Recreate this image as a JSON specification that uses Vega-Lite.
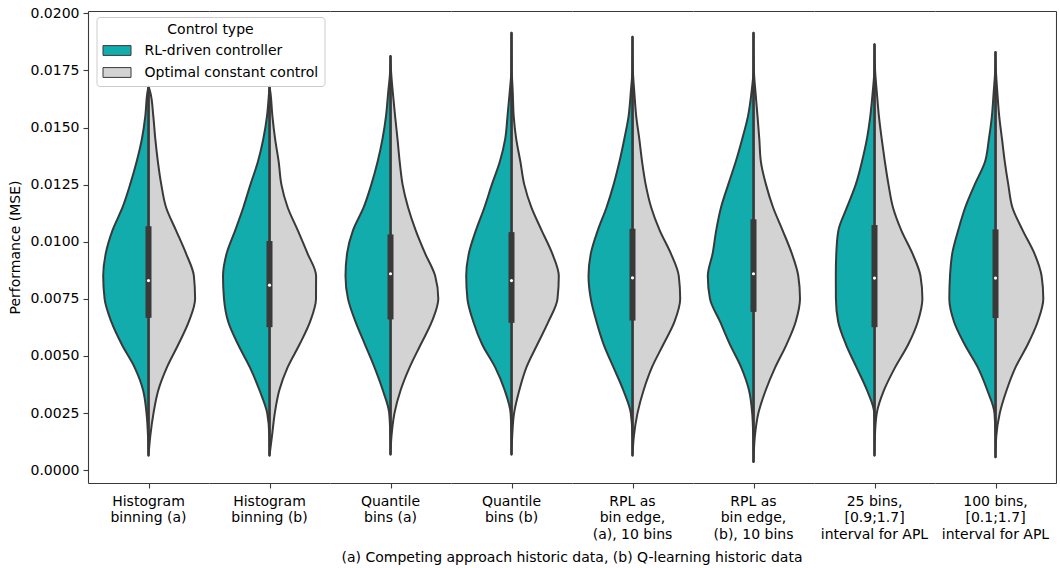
{
  "$schema": "https://vega.github.io/schema/vega-lite/v6.json",
  "background": "white",
  "padding": {"left": 8, "top": 6, "right": 1, "bottom": 0},
  "spacing": 0,
  "data": {
    "values": [
      {"method": "Histogram\nbinning (a)", "control": "RL-driven controller", "mse": 0.00064, "density": 0},
      {"method": "Histogram\nbinning (a)", "control": "RL-driven controller", "mse": 0.0015, "density": 0.01},
      {"method": "Histogram\nbinning (a)", "control": "RL-driven controller", "mse": 0.0025, "density": 0.04},
      {"method": "Histogram\nbinning (a)", "control": "RL-driven controller", "mse": 0.0035, "density": 0.108},
      {"method": "Histogram\nbinning (a)", "control": "RL-driven controller", "mse": 0.0045, "density": 0.278},
      {"method": "Histogram\nbinning (a)", "control": "RL-driven controller", "mse": 0.0055, "density": 0.534},
      {"method": "Histogram\nbinning (a)", "control": "RL-driven controller", "mse": 0.0065, "density": 0.744},
      {"method": "Histogram\nbinning (a)", "control": "RL-driven controller", "mse": 0.0075, "density": 0.878},
      {"method": "Histogram\nbinning (a)", "control": "RL-driven controller", "mse": 0.0085, "density": 0.906},
      {"method": "Histogram\nbinning (a)", "control": "RL-driven controller", "mse": 0.0095, "density": 0.854},
      {"method": "Histogram\nbinning (a)", "control": "RL-driven controller", "mse": 0.0105, "density": 0.72},
      {"method": "Histogram\nbinning (a)", "control": "RL-driven controller", "mse": 0.0115, "density": 0.52},
      {"method": "Histogram\nbinning (a)", "control": "RL-driven controller", "mse": 0.0125, "density": 0.368},
      {"method": "Histogram\nbinning (a)", "control": "RL-driven controller", "mse": 0.0135, "density": 0.238},
      {"method": "Histogram\nbinning (a)", "control": "RL-driven controller", "mse": 0.0145, "density": 0.132},
      {"method": "Histogram\nbinning (a)", "control": "RL-driven controller", "mse": 0.0155, "density": 0.064},
      {"method": "Histogram\nbinning (a)", "control": "RL-driven controller", "mse": 0.0165, "density": 0.024},
      {"method": "Histogram\nbinning (a)", "control": "RL-driven controller", "mse": 0.0168, "density": 0},
      {"method": "Histogram\nbinning (a)", "control": "Optimal constant control", "mse": 0.00064, "density": 0},
      {"method": "Histogram\nbinning (a)", "control": "Optimal constant control", "mse": 0.0015, "density": 0.036},
      {"method": "Histogram\nbinning (a)", "control": "Optimal constant control", "mse": 0.0025, "density": 0.1},
      {"method": "Histogram\nbinning (a)", "control": "Optimal constant control", "mse": 0.0035, "density": 0.196},
      {"method": "Histogram\nbinning (a)", "control": "Optimal constant control", "mse": 0.0045, "density": 0.368},
      {"method": "Histogram\nbinning (a)", "control": "Optimal constant control", "mse": 0.0055, "density": 0.596},
      {"method": "Histogram\nbinning (a)", "control": "Optimal constant control", "mse": 0.0065, "density": 0.806},
      {"method": "Histogram\nbinning (a)", "control": "Optimal constant control", "mse": 0.0075, "density": 0.932},
      {"method": "Histogram\nbinning (a)", "control": "Optimal constant control", "mse": 0.0085, "density": 0.908},
      {"method": "Histogram\nbinning (a)", "control": "Optimal constant control", "mse": 0.0095, "density": 0.748},
      {"method": "Histogram\nbinning (a)", "control": "Optimal constant control", "mse": 0.0105, "density": 0.55},
      {"method": "Histogram\nbinning (a)", "control": "Optimal constant control", "mse": 0.0115, "density": 0.352},
      {"method": "Histogram\nbinning (a)", "control": "Optimal constant control", "mse": 0.0125, "density": 0.256},
      {"method": "Histogram\nbinning (a)", "control": "Optimal constant control", "mse": 0.0135, "density": 0.188},
      {"method": "Histogram\nbinning (a)", "control": "Optimal constant control", "mse": 0.0145, "density": 0.136},
      {"method": "Histogram\nbinning (a)", "control": "Optimal constant control", "mse": 0.0155, "density": 0.096},
      {"method": "Histogram\nbinning (a)", "control": "Optimal constant control", "mse": 0.0165, "density": 0.04},
      {"method": "Histogram\nbinning (a)", "control": "Optimal constant control", "mse": 0.0168, "density": 0},

      {"method": "Histogram\nbinning (b)", "control": "RL-driven controller", "mse": 0.00064, "density": 0},
      {"method": "Histogram\nbinning (b)", "control": "RL-driven controller", "mse": 0.0015, "density": 0.004},
      {"method": "Histogram\nbinning (b)", "control": "RL-driven controller", "mse": 0.0025, "density": 0.046},
      {"method": "Histogram\nbinning (b)", "control": "RL-driven controller", "mse": 0.0035, "density": 0.2},
      {"method": "Histogram\nbinning (b)", "control": "RL-driven controller", "mse": 0.0045, "density": 0.392},
      {"method": "Histogram\nbinning (b)", "control": "RL-driven controller", "mse": 0.0055, "density": 0.628},
      {"method": "Histogram\nbinning (b)", "control": "RL-driven controller", "mse": 0.0065, "density": 0.826},
      {"method": "Histogram\nbinning (b)", "control": "RL-driven controller", "mse": 0.0075, "density": 0.91},
      {"method": "Histogram\nbinning (b)", "control": "RL-driven controller", "mse": 0.0085, "density": 0.93},
      {"method": "Histogram\nbinning (b)", "control": "RL-driven controller", "mse": 0.0095, "density": 0.856},
      {"method": "Histogram\nbinning (b)", "control": "RL-driven controller", "mse": 0.0105, "density": 0.686},
      {"method": "Histogram\nbinning (b)", "control": "RL-driven controller", "mse": 0.0115, "density": 0.524},
      {"method": "Histogram\nbinning (b)", "control": "RL-driven controller", "mse": 0.0125, "density": 0.382},
      {"method": "Histogram\nbinning (b)", "control": "RL-driven controller", "mse": 0.0135, "density": 0.232},
      {"method": "Histogram\nbinning (b)", "control": "RL-driven controller", "mse": 0.0145, "density": 0.124},
      {"method": "Histogram\nbinning (b)", "control": "RL-driven controller", "mse": 0.0155, "density": 0.05},
      {"method": "Histogram\nbinning (b)", "control": "RL-driven controller", "mse": 0.0165, "density": 0.01},
      {"method": "Histogram\nbinning (b)", "control": "RL-driven controller", "mse": 0.0168, "density": 0},
      {"method": "Histogram\nbinning (b)", "control": "Optimal constant control", "mse": 0.00064, "density": 0},
      {"method": "Histogram\nbinning (b)", "control": "Optimal constant control", "mse": 0.0015, "density": 0.05},
      {"method": "Histogram\nbinning (b)", "control": "Optimal constant control", "mse": 0.0025, "density": 0.106},
      {"method": "Histogram\nbinning (b)", "control": "Optimal constant control", "mse": 0.0035, "density": 0.196},
      {"method": "Histogram\nbinning (b)", "control": "Optimal constant control", "mse": 0.0045, "density": 0.362},
      {"method": "Histogram\nbinning (b)", "control": "Optimal constant control", "mse": 0.0055, "density": 0.6},
      {"method": "Histogram\nbinning (b)", "control": "Optimal constant control", "mse": 0.0065, "density": 0.812},
      {"method": "Histogram\nbinning (b)", "control": "Optimal constant control", "mse": 0.0075, "density": 0.93},
      {"method": "Histogram\nbinning (b)", "control": "Optimal constant control", "mse": 0.0085, "density": 0.932},
      {"method": "Histogram\nbinning (b)", "control": "Optimal constant control", "mse": 0.0095, "density": 0.758},
      {"method": "Histogram\nbinning (b)", "control": "Optimal constant control", "mse": 0.0105, "density": 0.566},
      {"method": "Histogram\nbinning (b)", "control": "Optimal constant control", "mse": 0.0115, "density": 0.364},
      {"method": "Histogram\nbinning (b)", "control": "Optimal constant control", "mse": 0.0125, "density": 0.238},
      {"method": "Histogram\nbinning (b)", "control": "Optimal constant control", "mse": 0.0135, "density": 0.184},
      {"method": "Histogram\nbinning (b)", "control": "Optimal constant control", "mse": 0.0145, "density": 0.112},
      {"method": "Histogram\nbinning (b)", "control": "Optimal constant control", "mse": 0.0155, "density": 0.058},
      {"method": "Histogram\nbinning (b)", "control": "Optimal constant control", "mse": 0.0165, "density": 0.02},
      {"method": "Histogram\nbinning (b)", "control": "Optimal constant control", "mse": 0.0168, "density": 0},

      {"method": "Quantile\nbins (a)", "control": "RL-driven controller", "mse": 0.00069, "density": 0},
      {"method": "Quantile\nbins (a)", "control": "RL-driven controller", "mse": 0.0015, "density": 0.004},
      {"method": "Quantile\nbins (a)", "control": "RL-driven controller", "mse": 0.0025, "density": 0.026},
      {"method": "Quantile\nbins (a)", "control": "RL-driven controller", "mse": 0.0035, "density": 0.154},
      {"method": "Quantile\nbins (a)", "control": "RL-driven controller", "mse": 0.0045, "density": 0.32},
      {"method": "Quantile\nbins (a)", "control": "RL-driven controller", "mse": 0.0055, "density": 0.51},
      {"method": "Quantile\nbins (a)", "control": "RL-driven controller", "mse": 0.0065, "density": 0.7},
      {"method": "Quantile\nbins (a)", "control": "RL-driven controller", "mse": 0.0075, "density": 0.85},
      {"method": "Quantile\nbins (a)", "control": "RL-driven controller", "mse": 0.0085, "density": 0.9},
      {"method": "Quantile\nbins (a)", "control": "RL-driven controller", "mse": 0.0095, "density": 0.868},
      {"method": "Quantile\nbins (a)", "control": "RL-driven controller", "mse": 0.0105, "density": 0.75},
      {"method": "Quantile\nbins (a)", "control": "RL-driven controller", "mse": 0.0115, "density": 0.538},
      {"method": "Quantile\nbins (a)", "control": "RL-driven controller", "mse": 0.0125, "density": 0.384},
      {"method": "Quantile\nbins (a)", "control": "RL-driven controller", "mse": 0.0135, "density": 0.258},
      {"method": "Quantile\nbins (a)", "control": "RL-driven controller", "mse": 0.0145, "density": 0.16},
      {"method": "Quantile\nbins (a)", "control": "RL-driven controller", "mse": 0.0155, "density": 0.09},
      {"method": "Quantile\nbins (a)", "control": "RL-driven controller", "mse": 0.0165, "density": 0.048},
      {"method": "Quantile\nbins (a)", "control": "RL-driven controller", "mse": 0.0175, "density": 0.006},
      {"method": "Quantile\nbins (a)", "control": "RL-driven controller", "mse": 0.01813, "density": 0},
      {"method": "Quantile\nbins (a)", "control": "Optimal constant control", "mse": 0.00069, "density": 0},
      {"method": "Quantile\nbins (a)", "control": "Optimal constant control", "mse": 0.0015, "density": 0.02},
      {"method": "Quantile\nbins (a)", "control": "Optimal constant control", "mse": 0.0025, "density": 0.08},
      {"method": "Quantile\nbins (a)", "control": "Optimal constant control", "mse": 0.0035, "density": 0.202},
      {"method": "Quantile\nbins (a)", "control": "Optimal constant control", "mse": 0.0045, "density": 0.382},
      {"method": "Quantile\nbins (a)", "control": "Optimal constant control", "mse": 0.0055, "density": 0.604},
      {"method": "Quantile\nbins (a)", "control": "Optimal constant control", "mse": 0.0065, "density": 0.826},
      {"method": "Quantile\nbins (a)", "control": "Optimal constant control", "mse": 0.0075, "density": 0.956},
      {"method": "Quantile\nbins (a)", "control": "Optimal constant control", "mse": 0.0085, "density": 0.894},
      {"method": "Quantile\nbins (a)", "control": "Optimal constant control", "mse": 0.0095, "density": 0.69},
      {"method": "Quantile\nbins (a)", "control": "Optimal constant control", "mse": 0.0105, "density": 0.504},
      {"method": "Quantile\nbins (a)", "control": "Optimal constant control", "mse": 0.0115, "density": 0.352},
      {"method": "Quantile\nbins (a)", "control": "Optimal constant control", "mse": 0.0125, "density": 0.242},
      {"method": "Quantile\nbins (a)", "control": "Optimal constant control", "mse": 0.0135, "density": 0.184},
      {"method": "Quantile\nbins (a)", "control": "Optimal constant control", "mse": 0.0145, "density": 0.14},
      {"method": "Quantile\nbins (a)", "control": "Optimal constant control", "mse": 0.0155, "density": 0.092},
      {"method": "Quantile\nbins (a)", "control": "Optimal constant control", "mse": 0.0165, "density": 0.048},
      {"method": "Quantile\nbins (a)", "control": "Optimal constant control", "mse": 0.0175, "density": 0.01},
      {"method": "Quantile\nbins (a)", "control": "Optimal constant control", "mse": 0.01813, "density": 0},

      {"method": "Quantile\nbins (b)", "control": "RL-driven controller", "mse": 0.00069, "density": 0},
      {"method": "Quantile\nbins (b)", "control": "RL-driven controller", "mse": 0.0015, "density": 0.002},
      {"method": "Quantile\nbins (b)", "control": "RL-driven controller", "mse": 0.0025, "density": 0.018},
      {"method": "Quantile\nbins (b)", "control": "RL-driven controller", "mse": 0.0035, "density": 0.136},
      {"method": "Quantile\nbins (b)", "control": "RL-driven controller", "mse": 0.0045, "density": 0.326},
      {"method": "Quantile\nbins (b)", "control": "RL-driven controller", "mse": 0.0055, "density": 0.586},
      {"method": "Quantile\nbins (b)", "control": "RL-driven controller", "mse": 0.0065, "density": 0.764},
      {"method": "Quantile\nbins (b)", "control": "RL-driven controller", "mse": 0.0075, "density": 0.882},
      {"method": "Quantile\nbins (b)", "control": "RL-driven controller", "mse": 0.0085, "density": 0.906},
      {"method": "Quantile\nbins (b)", "control": "RL-driven controller", "mse": 0.0095, "density": 0.852},
      {"method": "Quantile\nbins (b)", "control": "RL-driven controller", "mse": 0.0105, "density": 0.712},
      {"method": "Quantile\nbins (b)", "control": "RL-driven controller", "mse": 0.0115, "density": 0.542},
      {"method": "Quantile\nbins (b)", "control": "RL-driven controller", "mse": 0.0125, "density": 0.394},
      {"method": "Quantile\nbins (b)", "control": "RL-driven controller", "mse": 0.0135, "density": 0.234},
      {"method": "Quantile\nbins (b)", "control": "RL-driven controller", "mse": 0.0145, "density": 0.126},
      {"method": "Quantile\nbins (b)", "control": "RL-driven controller", "mse": 0.0155, "density": 0.08},
      {"method": "Quantile\nbins (b)", "control": "RL-driven controller", "mse": 0.0165, "density": 0.038},
      {"method": "Quantile\nbins (b)", "control": "RL-driven controller", "mse": 0.0175, "density": 0.004},
      {"method": "Quantile\nbins (b)", "control": "RL-driven controller", "mse": 0.01915, "density": 0},
      {"method": "Quantile\nbins (b)", "control": "Optimal constant control", "mse": 0.00069, "density": 0},
      {"method": "Quantile\nbins (b)", "control": "Optimal constant control", "mse": 0.0015, "density": 0.014},
      {"method": "Quantile\nbins (b)", "control": "Optimal constant control", "mse": 0.0025, "density": 0.052},
      {"method": "Quantile\nbins (b)", "control": "Optimal constant control", "mse": 0.0035, "density": 0.156},
      {"method": "Quantile\nbins (b)", "control": "Optimal constant control", "mse": 0.0045, "density": 0.298},
      {"method": "Quantile\nbins (b)", "control": "Optimal constant control", "mse": 0.0055, "density": 0.516},
      {"method": "Quantile\nbins (b)", "control": "Optimal constant control", "mse": 0.0065, "density": 0.738},
      {"method": "Quantile\nbins (b)", "control": "Optimal constant control", "mse": 0.0075, "density": 0.92},
      {"method": "Quantile\nbins (b)", "control": "Optimal constant control", "mse": 0.0085, "density": 0.946},
      {"method": "Quantile\nbins (b)", "control": "Optimal constant control", "mse": 0.0095, "density": 0.812},
      {"method": "Quantile\nbins (b)", "control": "Optimal constant control", "mse": 0.0105, "density": 0.602},
      {"method": "Quantile\nbins (b)", "control": "Optimal constant control", "mse": 0.0115, "density": 0.398},
      {"method": "Quantile\nbins (b)", "control": "Optimal constant control", "mse": 0.0125, "density": 0.256},
      {"method": "Quantile\nbins (b)", "control": "Optimal constant control", "mse": 0.0135, "density": 0.178},
      {"method": "Quantile\nbins (b)", "control": "Optimal constant control", "mse": 0.0145, "density": 0.094},
      {"method": "Quantile\nbins (b)", "control": "Optimal constant control", "mse": 0.0155, "density": 0.044},
      {"method": "Quantile\nbins (b)", "control": "Optimal constant control", "mse": 0.0165, "density": 0.026},
      {"method": "Quantile\nbins (b)", "control": "Optimal constant control", "mse": 0.0175, "density": 0.006},
      {"method": "Quantile\nbins (b)", "control": "Optimal constant control", "mse": 0.01915, "density": 0},

      {"method": "RPL as\nbin edge,\n(a), 10 bins", "control": "RL-driven controller", "mse": 0.00064, "density": 0},
      {"method": "RPL as\nbin edge,\n(a), 10 bins", "control": "RL-driven controller", "mse": 0.0015, "density": 0.002},
      {"method": "RPL as\nbin edge,\n(a), 10 bins", "control": "RL-driven controller", "mse": 0.0025, "density": 0.034},
      {"method": "RPL as\nbin edge,\n(a), 10 bins", "control": "RL-driven controller", "mse": 0.0035, "density": 0.184},
      {"method": "RPL as\nbin edge,\n(a), 10 bins", "control": "RL-driven controller", "mse": 0.0045, "density": 0.38},
      {"method": "RPL as\nbin edge,\n(a), 10 bins", "control": "RL-driven controller", "mse": 0.0055, "density": 0.576},
      {"method": "RPL as\nbin edge,\n(a), 10 bins", "control": "RL-driven controller", "mse": 0.0065, "density": 0.72},
      {"method": "RPL as\nbin edge,\n(a), 10 bins", "control": "RL-driven controller", "mse": 0.0075, "density": 0.834},
      {"method": "RPL as\nbin edge,\n(a), 10 bins", "control": "RL-driven controller", "mse": 0.0085, "density": 0.88},
      {"method": "RPL as\nbin edge,\n(a), 10 bins", "control": "RL-driven controller", "mse": 0.0095, "density": 0.832},
      {"method": "RPL as\nbin edge,\n(a), 10 bins", "control": "RL-driven controller", "mse": 0.0105, "density": 0.694},
      {"method": "RPL as\nbin edge,\n(a), 10 bins", "control": "RL-driven controller", "mse": 0.0115, "density": 0.52},
      {"method": "RPL as\nbin edge,\n(a), 10 bins", "control": "RL-driven controller", "mse": 0.0125, "density": 0.378},
      {"method": "RPL as\nbin edge,\n(a), 10 bins", "control": "RL-driven controller", "mse": 0.0135, "density": 0.262},
      {"method": "RPL as\nbin edge,\n(a), 10 bins", "control": "RL-driven controller", "mse": 0.0145, "density": 0.164},
      {"method": "RPL as\nbin edge,\n(a), 10 bins", "control": "RL-driven controller", "mse": 0.0155, "density": 0.078},
      {"method": "RPL as\nbin edge,\n(a), 10 bins", "control": "RL-driven controller", "mse": 0.0165, "density": 0.036},
      {"method": "RPL as\nbin edge,\n(a), 10 bins", "control": "RL-driven controller", "mse": 0.0175, "density": 0.004},
      {"method": "RPL as\nbin edge,\n(a), 10 bins", "control": "RL-driven controller", "mse": 0.01897, "density": 0},
      {"method": "RPL as\nbin edge,\n(a), 10 bins", "control": "Optimal constant control", "mse": 0.00064, "density": 0},
      {"method": "RPL as\nbin edge,\n(a), 10 bins", "control": "Optimal constant control", "mse": 0.0015, "density": 0.028},
      {"method": "RPL as\nbin edge,\n(a), 10 bins", "control": "Optimal constant control", "mse": 0.0025, "density": 0.1},
      {"method": "RPL as\nbin edge,\n(a), 10 bins", "control": "Optimal constant control", "mse": 0.0035, "density": 0.222},
      {"method": "RPL as\nbin edge,\n(a), 10 bins", "control": "Optimal constant control", "mse": 0.0045, "density": 0.388},
      {"method": "RPL as\nbin edge,\n(a), 10 bins", "control": "Optimal constant control", "mse": 0.0055, "density": 0.616},
      {"method": "RPL as\nbin edge,\n(a), 10 bins", "control": "Optimal constant control", "mse": 0.0065, "density": 0.84},
      {"method": "RPL as\nbin edge,\n(a), 10 bins", "control": "Optimal constant control", "mse": 0.0075, "density": 0.954},
      {"method": "RPL as\nbin edge,\n(a), 10 bins", "control": "Optimal constant control", "mse": 0.0085, "density": 0.926},
      {"method": "RPL as\nbin edge,\n(a), 10 bins", "control": "Optimal constant control", "mse": 0.0095, "density": 0.764},
      {"method": "RPL as\nbin edge,\n(a), 10 bins", "control": "Optimal constant control", "mse": 0.0105, "density": 0.544},
      {"method": "RPL as\nbin edge,\n(a), 10 bins", "control": "Optimal constant control", "mse": 0.0115, "density": 0.374},
      {"method": "RPL as\nbin edge,\n(a), 10 bins", "control": "Optimal constant control", "mse": 0.0125, "density": 0.264},
      {"method": "RPL as\nbin edge,\n(a), 10 bins", "control": "Optimal constant control", "mse": 0.0135, "density": 0.192},
      {"method": "RPL as\nbin edge,\n(a), 10 bins", "control": "Optimal constant control", "mse": 0.0145, "density": 0.136},
      {"method": "RPL as\nbin edge,\n(a), 10 bins", "control": "Optimal constant control", "mse": 0.0155, "density": 0.074},
      {"method": "RPL as\nbin edge,\n(a), 10 bins", "control": "Optimal constant control", "mse": 0.0165, "density": 0.038},
      {"method": "RPL as\nbin edge,\n(a), 10 bins", "control": "Optimal constant control", "mse": 0.0175, "density": 0.008},
      {"method": "RPL as\nbin edge,\n(a), 10 bins", "control": "Optimal constant control", "mse": 0.01897, "density": 0},

      {"method": "RPL as\nbin edge,\n(b), 10 bins", "control": "RL-driven controller", "mse": 0.00036, "density": 0},
      {"method": "RPL as\nbin edge,\n(b), 10 bins", "control": "RL-driven controller", "mse": 0.0015, "density": 0.006},
      {"method": "RPL as\nbin edge,\n(b), 10 bins", "control": "RL-driven controller", "mse": 0.0025, "density": 0.026},
      {"method": "RPL as\nbin edge,\n(b), 10 bins", "control": "RL-driven controller", "mse": 0.0035, "density": 0.09},
      {"method": "RPL as\nbin edge,\n(b), 10 bins", "control": "RL-driven controller", "mse": 0.0045, "density": 0.246},
      {"method": "RPL as\nbin edge,\n(b), 10 bins", "control": "RL-driven controller", "mse": 0.0055, "density": 0.47},
      {"method": "RPL as\nbin edge,\n(b), 10 bins", "control": "RL-driven controller", "mse": 0.0065, "density": 0.668},
      {"method": "RPL as\nbin edge,\n(b), 10 bins", "control": "RL-driven controller", "mse": 0.0075, "density": 0.87},
      {"method": "RPL as\nbin edge,\n(b), 10 bins", "control": "RL-driven controller", "mse": 0.0085, "density": 0.914},
      {"method": "RPL as\nbin edge,\n(b), 10 bins", "control": "RL-driven controller", "mse": 0.0095, "density": 0.816},
      {"method": "RPL as\nbin edge,\n(b), 10 bins", "control": "RL-driven controller", "mse": 0.0105, "density": 0.746},
      {"method": "RPL as\nbin edge,\n(b), 10 bins", "control": "RL-driven controller", "mse": 0.0115, "density": 0.65},
      {"method": "RPL as\nbin edge,\n(b), 10 bins", "control": "RL-driven controller", "mse": 0.0125, "density": 0.506},
      {"method": "RPL as\nbin edge,\n(b), 10 bins", "control": "RL-driven controller", "mse": 0.0135, "density": 0.356},
      {"method": "RPL as\nbin edge,\n(b), 10 bins", "control": "RL-driven controller", "mse": 0.0145, "density": 0.226},
      {"method": "RPL as\nbin edge,\n(b), 10 bins", "control": "RL-driven controller", "mse": 0.0155, "density": 0.11},
      {"method": "RPL as\nbin edge,\n(b), 10 bins", "control": "RL-driven controller", "mse": 0.0165, "density": 0.042},
      {"method": "RPL as\nbin edge,\n(b), 10 bins", "control": "RL-driven controller", "mse": 0.0175, "density": 0.002},
      {"method": "RPL as\nbin edge,\n(b), 10 bins", "control": "RL-driven controller", "mse": 0.01915, "density": 0},
      {"method": "RPL as\nbin edge,\n(b), 10 bins", "control": "Optimal constant control", "mse": 0.00036, "density": 0},
      {"method": "RPL as\nbin edge,\n(b), 10 bins", "control": "Optimal constant control", "mse": 0.0015, "density": 0.028},
      {"method": "RPL as\nbin edge,\n(b), 10 bins", "control": "Optimal constant control", "mse": 0.0025, "density": 0.098},
      {"method": "RPL as\nbin edge,\n(b), 10 bins", "control": "Optimal constant control", "mse": 0.0035, "density": 0.244},
      {"method": "RPL as\nbin edge,\n(b), 10 bins", "control": "Optimal constant control", "mse": 0.0045, "density": 0.434},
      {"method": "RPL as\nbin edge,\n(b), 10 bins", "control": "Optimal constant control", "mse": 0.0055, "density": 0.66},
      {"method": "RPL as\nbin edge,\n(b), 10 bins", "control": "Optimal constant control", "mse": 0.0065, "density": 0.844},
      {"method": "RPL as\nbin edge,\n(b), 10 bins", "control": "Optimal constant control", "mse": 0.0075, "density": 0.93},
      {"method": "RPL as\nbin edge,\n(b), 10 bins", "control": "Optimal constant control", "mse": 0.0085, "density": 0.896},
      {"method": "RPL as\nbin edge,\n(b), 10 bins", "control": "Optimal constant control", "mse": 0.0095, "density": 0.764},
      {"method": "RPL as\nbin edge,\n(b), 10 bins", "control": "Optimal constant control", "mse": 0.0105, "density": 0.582},
      {"method": "RPL as\nbin edge,\n(b), 10 bins", "control": "Optimal constant control", "mse": 0.0115, "density": 0.392},
      {"method": "RPL as\nbin edge,\n(b), 10 bins", "control": "Optimal constant control", "mse": 0.0125, "density": 0.25},
      {"method": "RPL as\nbin edge,\n(b), 10 bins", "control": "Optimal constant control", "mse": 0.0135, "density": 0.148},
      {"method": "RPL as\nbin edge,\n(b), 10 bins", "control": "Optimal constant control", "mse": 0.0145, "density": 0.116},
      {"method": "RPL as\nbin edge,\n(b), 10 bins", "control": "Optimal constant control", "mse": 0.0155, "density": 0.08},
      {"method": "RPL as\nbin edge,\n(b), 10 bins", "control": "Optimal constant control", "mse": 0.0165, "density": 0.042},
      {"method": "RPL as\nbin edge,\n(b), 10 bins", "control": "Optimal constant control", "mse": 0.0175, "density": 0.008},
      {"method": "RPL as\nbin edge,\n(b), 10 bins", "control": "Optimal constant control", "mse": 0.01915, "density": 0},

      {"method": "25 bins,\n[0.9;1.7]\ninterval for APL", "control": "RL-driven controller", "mse": 0.00064, "density": 0},
      {"method": "25 bins,\n[0.9;1.7]\ninterval for APL", "control": "RL-driven controller", "mse": 0.0015, "density": 0},
      {"method": "25 bins,\n[0.9;1.7]\ninterval for APL", "control": "RL-driven controller", "mse": 0.0025, "density": 0.006},
      {"method": "25 bins,\n[0.9;1.7]\ninterval for APL", "control": "RL-driven controller", "mse": 0.0035, "density": 0.15},
      {"method": "25 bins,\n[0.9;1.7]\ninterval for APL", "control": "RL-driven controller", "mse": 0.0045, "density": 0.36},
      {"method": "25 bins,\n[0.9;1.7]\ninterval for APL", "control": "RL-driven controller", "mse": 0.0055, "density": 0.57},
      {"method": "25 bins,\n[0.9;1.7]\ninterval for APL", "control": "RL-driven controller", "mse": 0.0065, "density": 0.726},
      {"method": "25 bins,\n[0.9;1.7]\ninterval for APL", "control": "RL-driven controller", "mse": 0.0075, "density": 0.772},
      {"method": "25 bins,\n[0.9;1.7]\ninterval for APL", "control": "RL-driven controller", "mse": 0.0085, "density": 0.774},
      {"method": "25 bins,\n[0.9;1.7]\ninterval for APL", "control": "RL-driven controller", "mse": 0.0095, "density": 0.764},
      {"method": "25 bins,\n[0.9;1.7]\ninterval for APL", "control": "RL-driven controller", "mse": 0.0105, "density": 0.722},
      {"method": "25 bins,\n[0.9;1.7]\ninterval for APL", "control": "RL-driven controller", "mse": 0.0115, "density": 0.552},
      {"method": "25 bins,\n[0.9;1.7]\ninterval for APL", "control": "RL-driven controller", "mse": 0.0125, "density": 0.376},
      {"method": "25 bins,\n[0.9;1.7]\ninterval for APL", "control": "RL-driven controller", "mse": 0.0135, "density": 0.252},
      {"method": "25 bins,\n[0.9;1.7]\ninterval for APL", "control": "RL-driven controller", "mse": 0.0145, "density": 0.152},
      {"method": "25 bins,\n[0.9;1.7]\ninterval for APL", "control": "RL-driven controller", "mse": 0.0155, "density": 0.084},
      {"method": "25 bins,\n[0.9;1.7]\ninterval for APL", "control": "RL-driven controller", "mse": 0.0165, "density": 0.038},
      {"method": "25 bins,\n[0.9;1.7]\ninterval for APL", "control": "RL-driven controller", "mse": 0.0175, "density": 0.004},
      {"method": "25 bins,\n[0.9;1.7]\ninterval for APL", "control": "RL-driven controller", "mse": 0.01864, "density": 0},
      {"method": "25 bins,\n[0.9;1.7]\ninterval for APL", "control": "Optimal constant control", "mse": 0.00064, "density": 0},
      {"method": "25 bins,\n[0.9;1.7]\ninterval for APL", "control": "Optimal constant control", "mse": 0.0015, "density": 0.008},
      {"method": "25 bins,\n[0.9;1.7]\ninterval for APL", "control": "Optimal constant control", "mse": 0.0025, "density": 0.046},
      {"method": "25 bins,\n[0.9;1.7]\ninterval for APL", "control": "Optimal constant control", "mse": 0.0035, "density": 0.19},
      {"method": "25 bins,\n[0.9;1.7]\ninterval for APL", "control": "Optimal constant control", "mse": 0.0045, "density": 0.412},
      {"method": "25 bins,\n[0.9;1.7]\ninterval for APL", "control": "Optimal constant control", "mse": 0.0055, "density": 0.674},
      {"method": "25 bins,\n[0.9;1.7]\ninterval for APL", "control": "Optimal constant control", "mse": 0.0065, "density": 0.866},
      {"method": "25 bins,\n[0.9;1.7]\ninterval for APL", "control": "Optimal constant control", "mse": 0.0075, "density": 0.958},
      {"method": "25 bins,\n[0.9;1.7]\ninterval for APL", "control": "Optimal constant control", "mse": 0.0085, "density": 0.92},
      {"method": "25 bins,\n[0.9;1.7]\ninterval for APL", "control": "Optimal constant control", "mse": 0.0095, "density": 0.756},
      {"method": "25 bins,\n[0.9;1.7]\ninterval for APL", "control": "Optimal constant control", "mse": 0.0105, "density": 0.536},
      {"method": "25 bins,\n[0.9;1.7]\ninterval for APL", "control": "Optimal constant control", "mse": 0.0115, "density": 0.37},
      {"method": "25 bins,\n[0.9;1.7]\ninterval for APL", "control": "Optimal constant control", "mse": 0.0125, "density": 0.28},
      {"method": "25 bins,\n[0.9;1.7]\ninterval for APL", "control": "Optimal constant control", "mse": 0.0135, "density": 0.208},
      {"method": "25 bins,\n[0.9;1.7]\ninterval for APL", "control": "Optimal constant control", "mse": 0.0145, "density": 0.144},
      {"method": "25 bins,\n[0.9;1.7]\ninterval for APL", "control": "Optimal constant control", "mse": 0.0155, "density": 0.088},
      {"method": "25 bins,\n[0.9;1.7]\ninterval for APL", "control": "Optimal constant control", "mse": 0.0165, "density": 0.048},
      {"method": "25 bins,\n[0.9;1.7]\ninterval for APL", "control": "Optimal constant control", "mse": 0.0175, "density": 0.012},
      {"method": "25 bins,\n[0.9;1.7]\ninterval for APL", "control": "Optimal constant control", "mse": 0.01864, "density": 0},

      {"method": "100 bins,\n[0.1;1.7]\ninterval for APL", "control": "RL-driven controller", "mse": 0.00057, "density": 0},
      {"method": "100 bins,\n[0.1;1.7]\ninterval for APL", "control": "RL-driven controller", "mse": 0.0015, "density": 0.002},
      {"method": "100 bins,\n[0.1;1.7]\ninterval for APL", "control": "RL-driven controller", "mse": 0.0025, "density": 0.02},
      {"method": "100 bins,\n[0.1;1.7]\ninterval for APL", "control": "RL-driven controller", "mse": 0.0035, "density": 0.164},
      {"method": "100 bins,\n[0.1;1.7]\ninterval for APL", "control": "RL-driven controller", "mse": 0.0045, "density": 0.354},
      {"method": "100 bins,\n[0.1;1.7]\ninterval for APL", "control": "RL-driven controller", "mse": 0.0055, "density": 0.616},
      {"method": "100 bins,\n[0.1;1.7]\ninterval for APL", "control": "RL-driven controller", "mse": 0.0065, "density": 0.83},
      {"method": "100 bins,\n[0.1;1.7]\ninterval for APL", "control": "RL-driven controller", "mse": 0.0075, "density": 0.924},
      {"method": "100 bins,\n[0.1;1.7]\ninterval for APL", "control": "RL-driven controller", "mse": 0.0085, "density": 0.91},
      {"method": "100 bins,\n[0.1;1.7]\ninterval for APL", "control": "RL-driven controller", "mse": 0.0095, "density": 0.864},
      {"method": "100 bins,\n[0.1;1.7]\ninterval for APL", "control": "RL-driven controller", "mse": 0.0105, "density": 0.746},
      {"method": "100 bins,\n[0.1;1.7]\ninterval for APL", "control": "RL-driven controller", "mse": 0.0115, "density": 0.606},
      {"method": "100 bins,\n[0.1;1.7]\ninterval for APL", "control": "RL-driven controller", "mse": 0.0125, "density": 0.416},
      {"method": "100 bins,\n[0.1;1.7]\ninterval for APL", "control": "RL-driven controller", "mse": 0.0135, "density": 0.21},
      {"method": "100 bins,\n[0.1;1.7]\ninterval for APL", "control": "RL-driven controller", "mse": 0.0145, "density": 0.132},
      {"method": "100 bins,\n[0.1;1.7]\ninterval for APL", "control": "RL-driven controller", "mse": 0.0155, "density": 0.072},
      {"method": "100 bins,\n[0.1;1.7]\ninterval for APL", "control": "RL-driven controller", "mse": 0.0165, "density": 0.038},
      {"method": "100 bins,\n[0.1;1.7]\ninterval for APL", "control": "RL-driven controller", "mse": 0.0175, "density": 0.006},
      {"method": "100 bins,\n[0.1;1.7]\ninterval for APL", "control": "RL-driven controller", "mse": 0.0183, "density": 0},
      {"method": "100 bins,\n[0.1;1.7]\ninterval for APL", "control": "Optimal constant control", "mse": 0.00057, "density": 0},
      {"method": "100 bins,\n[0.1;1.7]\ninterval for APL", "control": "Optimal constant control", "mse": 0.0015, "density": 0.016},
      {"method": "100 bins,\n[0.1;1.7]\ninterval for APL", "control": "Optimal constant control", "mse": 0.0025, "density": 0.086},
      {"method": "100 bins,\n[0.1;1.7]\ninterval for APL", "control": "Optimal constant control", "mse": 0.0035, "density": 0.222},
      {"method": "100 bins,\n[0.1;1.7]\ninterval for APL", "control": "Optimal constant control", "mse": 0.0045, "density": 0.4},
      {"method": "100 bins,\n[0.1;1.7]\ninterval for APL", "control": "Optimal constant control", "mse": 0.0055, "density": 0.644},
      {"method": "100 bins,\n[0.1;1.7]\ninterval for APL", "control": "Optimal constant control", "mse": 0.0065, "density": 0.844},
      {"method": "100 bins,\n[0.1;1.7]\ninterval for APL", "control": "Optimal constant control", "mse": 0.0075, "density": 0.956},
      {"method": "100 bins,\n[0.1;1.7]\ninterval for APL", "control": "Optimal constant control", "mse": 0.0085, "density": 0.922},
      {"method": "100 bins,\n[0.1;1.7]\ninterval for APL", "control": "Optimal constant control", "mse": 0.0095, "density": 0.776},
      {"method": "100 bins,\n[0.1;1.7]\ninterval for APL", "control": "Optimal constant control", "mse": 0.0105, "density": 0.544},
      {"method": "100 bins,\n[0.1;1.7]\ninterval for APL", "control": "Optimal constant control", "mse": 0.0115, "density": 0.338},
      {"method": "100 bins,\n[0.1;1.7]\ninterval for APL", "control": "Optimal constant control", "mse": 0.0125, "density": 0.256},
      {"method": "100 bins,\n[0.1;1.7]\ninterval for APL", "control": "Optimal constant control", "mse": 0.0135, "density": 0.186},
      {"method": "100 bins,\n[0.1;1.7]\ninterval for APL", "control": "Optimal constant control", "mse": 0.0145, "density": 0.13},
      {"method": "100 bins,\n[0.1;1.7]\ninterval for APL", "control": "Optimal constant control", "mse": 0.0155, "density": 0.074},
      {"method": "100 bins,\n[0.1;1.7]\ninterval for APL", "control": "Optimal constant control", "mse": 0.0165, "density": 0.038},
      {"method": "100 bins,\n[0.1;1.7]\ninterval for APL", "control": "Optimal constant control", "mse": 0.0175, "density": 0.008},
      {"method": "100 bins,\n[0.1;1.7]\ninterval for APL", "control": "Optimal constant control", "mse": 0.0183, "density": 0},

      {"method": "Histogram\nbinning (a)", "lo": 0.00064, "q1": 0.00667, "median": 0.0083, "q3": 0.01068, "hi": 0.0168},
      {"method": "Histogram\nbinning (b)", "lo": 0.00064, "q1": 0.00626, "median": 0.0081, "q3": 0.01003, "hi": 0.0168},
      {"method": "Quantile\nbins (a)", "lo": 0.00069, "q1": 0.0066, "median": 0.0086, "q3": 0.01032, "hi": 0.01813},
      {"method": "Quantile\nbins (b)", "lo": 0.00069, "q1": 0.00645, "median": 0.0083, "q3": 0.01042, "hi": 0.01915},
      {"method": "RPL as\nbin edge,\n(a), 10 bins", "lo": 0.00064, "q1": 0.00655, "median": 0.00842, "q3": 0.01057, "hi": 0.01897},
      {"method": "RPL as\nbin edge,\n(b), 10 bins", "lo": 0.00036, "q1": 0.00693, "median": 0.0086, "q3": 0.01098, "hi": 0.01915},
      {"method": "25 bins,\n[0.9;1.7]\ninterval for APL", "lo": 0.00064, "q1": 0.00626, "median": 0.00841, "q3": 0.01073, "hi": 0.01864},
      {"method": "100 bins,\n[0.1;1.7]\ninterval for APL", "lo": 0.00057, "q1": 0.00666, "median": 0.00841, "q3": 0.01054, "hi": 0.0183}
    ]
  },
  "facet": {
    "column": {
      "field": "method",
      "type": "nominal",
      "sort": [
        "Histogram\nbinning (a)",
        "Histogram\nbinning (b)",
        "Quantile\nbins (a)",
        "Quantile\nbins (b)",
        "RPL as\nbin edge,\n(a), 10 bins",
        "RPL as\nbin edge,\n(b), 10 bins",
        "25 bins,\n[0.9;1.7]\ninterval for APL",
        "100 bins,\n[0.1;1.7]\ninterval for APL"
      ],
      "title": "(a) Competing approach historic data, (b) Q-learning historic data",
      "header": {
        "labelOrient": "bottom",
        "titleOrient": "bottom",
        "labelExpr": "split(datum.value, '\\n')",
        "labelFont": "DejaVu Sans",
        "labelFontSize": 14,
        "labelColor": "#000000",
        "labelLineHeight": 16.8,
        "labelPadding": 6,
        "titleFont": "DejaVu Sans",
        "titleFontSize": 14,
        "titleFontWeight": "normal",
        "titleColor": "#000000",
        "titlePadding": -2
      }
    }
  },
  "spec": {
    "width": 121,
    "height": 472,
    "resolve": {"axis": {"x": "independent", "y": "independent"}},
    "layer": [
      {
        "transform": [{"filter": "datum.control === 'Optimal constant control'"}],
        "mark": {"type": "area", "orient": "horizontal", "interpolate": "monotone", "stroke": "#393939", "strokeWidth": 2, "strokeJoin": "round", "opacity": 1},
        "encoding": {
          "y": {
            "field": "mse",
            "type": "quantitative",
            "scale": {"domain": [-0.00056, 0.0201], "nice": false, "zero": false},
            "axis": {
              "orient": "left",
              "title": "Performance (MSE)",
              "values": [0, 0.0025, 0.005, 0.0075, 0.01, 0.0125, 0.015, 0.0175, 0.02],
              "format": ".4f",
              "grid": false,
              "tickSize": 5,
              "labelPadding": 4,
              "titlePadding": 8
            }
          },
          "x": {
            "field": "density",
            "type": "quantitative",
            "stack": null,
            "scale": {"domain": [-1.21, 1.21], "nice": false, "zero": false},
            "axis": {"orient": "top", "title": null, "labels": false, "ticks": false, "grid": false, "domain": true}
          },
          "x2": {"datum": 0},
          "color": {
            "field": "control",
            "type": "nominal",
            "scale": {"domain": ["RL-driven controller", "Optimal constant control"], "range": ["#13acac", "#d3d3d3"]},
            "legend": {
              "title": "Control type",
              "orient": "none",
              "legendX": 8.5,
              "legendY": 6,
              "fillColor": "rgba(255,255,255,0.8)",
              "strokeColor": "#cccccc",
              "cornerRadius": 3,
              "padding": 6,
              "symbolType": "M-2,-0.7H2V0.7H-2Z",
              "symbolSize": 196,
              "symbolStrokeColor": "#393939",
              "symbolStrokeWidth": 1,
              "symbolOpacity": 1,
              "symbolOffset": 7,
              "labelOffset": 20,
              "labelLimit": 300,
              "rowPadding": 7,
              "titleAnchor": "middle",
              "titleFont": "DejaVu Sans",
              "titleFontSize": 14,
              "titleFontWeight": "normal",
              "titleColor": "#000000",
              "titlePadding": 6,
              "labelFont": "DejaVu Sans",
              "labelFontSize": 14,
              "labelColor": "#000000"
            }
          }
        }
      },
      {
        "transform": [
          {"filter": "datum.control === 'RL-driven controller'"},
          {"calculate": "-datum.density", "as": "mirrored"}
        ],
        "mark": {"type": "area", "orient": "horizontal", "interpolate": "monotone", "stroke": "#393939", "strokeWidth": 2, "strokeJoin": "round", "opacity": 1},
        "encoding": {
          "y": {
            "field": "mse",
            "type": "quantitative",
            "axis": {"orient": "right", "title": null, "labels": false, "ticks": false, "grid": false, "domain": true}
          },
          "x": {
            "field": "mirrored",
            "type": "quantitative",
            "stack": null,
            "axis": {"orient": "bottom", "title": null, "labels": false, "values": [0], "ticks": true, "tickSize": 5, "grid": false, "domain": true}
          },
          "x2": {"datum": 0},
          "color": {"field": "control", "type": "nominal", "legend": null}
        }
      },
      {
        "transform": [{"filter": "isValid(datum.q1)"}],
        "mark": {"type": "rule", "color": "#393939", "strokeWidth": 2},
        "encoding": {
          "x": {"datum": 0, "type": "quantitative", "axis": null},
          "y": {"field": "lo", "type": "quantitative", "axis": null},
          "y2": {"field": "hi"}
        }
      },
      {
        "transform": [{"filter": "isValid(datum.q1)"}],
        "mark": {"type": "rule", "color": "#393939", "strokeWidth": 6},
        "encoding": {
          "x": {"datum": 0, "type": "quantitative", "axis": null},
          "y": {"field": "q1", "type": "quantitative", "axis": null},
          "y2": {"field": "q3"}
        }
      },
      {
        "transform": [{"filter": "isValid(datum.q1)"}],
        "mark": {"type": "point", "filled": true, "color": "white", "size": 10, "opacity": 1},
        "encoding": {
          "x": {"datum": 0, "type": "quantitative", "axis": null},
          "y": {"field": "median", "type": "quantitative", "axis": null}
        }
      }
    ]
  },
  "config": {
    "font": "DejaVu Sans",
    "view": {"stroke": null},
    "axis": {
      "labelFont": "DejaVu Sans",
      "labelFontSize": 14,
      "labelColor": "#000000",
      "titleFont": "DejaVu Sans",
      "titleFontSize": 14,
      "titleFontWeight": "normal",
      "titleColor": "#000000",
      "domainColor": "#3a3a3a",
      "domainWidth": 1.1,
      "tickColor": "#3a3a3a",
      "tickWidth": 1.1
    }
  }
}
